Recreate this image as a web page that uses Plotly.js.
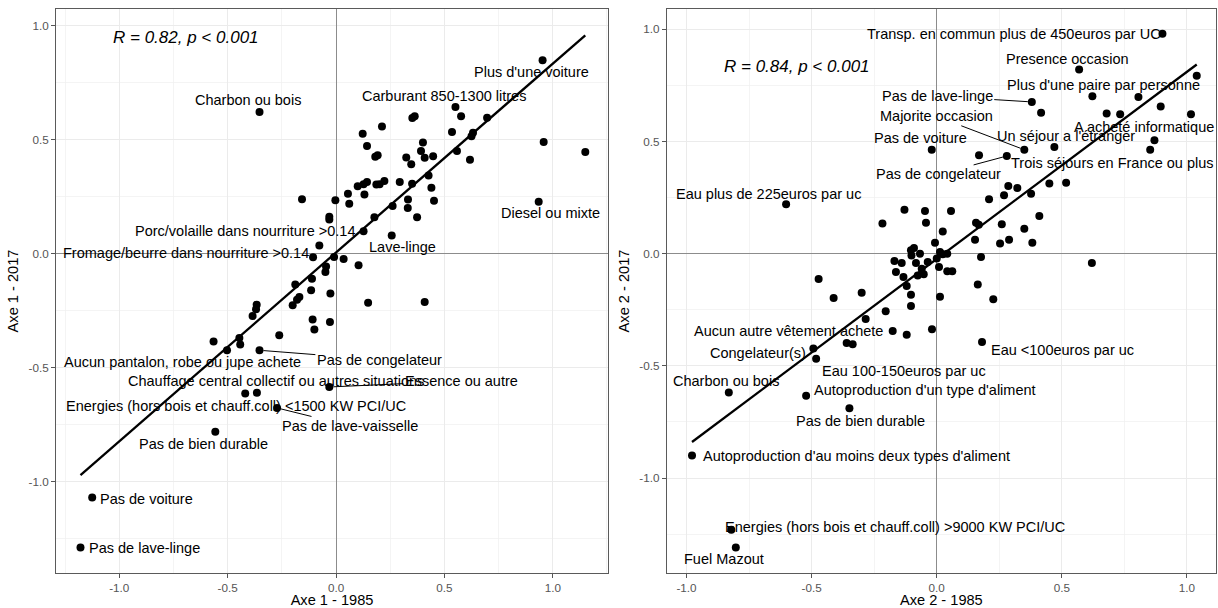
<!DOCTYPE html>
<html>
<head>
<meta charset="utf-8">
<script src="https://cdn.plot.ly/plotly-3.0.1.min.js"></script>
<style>html,body{margin:0;padding:0;background:#fff;}#chart{width:1218px;height:608px;}</style>
</head>
<body>
<div id="chart"></div>
<script>
// ---------- Data ----------
const leftX = [0.953,0.551,0.577,0.697,0.352,0.363,0.212,0.123,0.535,0.632,0.625,0.143,0.401,0.958,1.150,0.181,0.192,0.324,0.347,0.392,0.409,0.448,0.558,0.618,0.427,0.440,0.452,0.294,0.351,0.143,0.127,0.100,0.186,0.201,0.223,0.131,0.055,0.061,-0.003,-0.157,-0.031,-0.031,0.261,0.332,0.331,0.374,0.177,0.935,0.127,0.257,-0.077,-0.106,-0.009,0.035,0.104,-0.046,-0.049,-0.111,-0.188,-0.115,-0.026,-0.169,-0.180,-0.200,-0.366,-0.369,-0.385,-0.108,-0.100,-0.028,-0.262,-0.565,-0.446,-0.442,-0.503,-0.353,0.148,0.409,-0.031,-0.419,-0.365,-0.272,-0.557,-1.125,-1.179,-0.353];
const leftY = [0.848,0.643,0.602,0.596,0.595,0.603,0.558,0.526,0.533,0.530,0.515,0.472,0.487,0.490,0.446,0.425,0.432,0.422,0.392,0.450,0.421,0.427,0.450,0.412,0.343,0.289,0.232,0.314,0.307,0.314,0.304,0.295,0.303,0.304,0.318,0.259,0.263,0.219,0.234,0.238,0.162,0.150,0.209,0.237,0.200,0.159,0.159,0.228,0.098,0.079,0.036,-0.016,-0.015,-0.024,-0.051,-0.056,-0.081,-0.110,-0.135,-0.161,-0.175,-0.190,-0.202,-0.227,-0.224,-0.244,-0.274,-0.289,-0.333,-0.300,-0.358,-0.385,-0.370,-0.399,-0.424,-0.424,-0.215,-0.212,-0.585,-0.614,-0.610,-0.677,-0.781,-1.070,-1.289,0.621];

const rightX = [0.902,0.569,0.622,0.806,1.039,0.895,0.679,0.733,1.016,0.380,0.417,0.870,0.853,0.350,0.470,0.280,0.169,-0.020,0.450,0.517,0.286,0.322,0.269,0.377,0.209,-0.047,-0.043,0.057,0.157,0.168,0.260,0.410,0.350,0.024,0.153,0.253,0.289,0.382,-0.007,0.177,0.620,-0.103,-0.091,-0.067,0.013,0.024,0.042,-0.101,-0.169,-0.140,-0.163,-0.083,-0.036,0.000,-0.060,-0.076,-0.052,-0.133,0.009,0.042,0.062,-0.120,-0.103,-0.103,0.013,0.226,0.164,-0.129,-0.217,-0.472,-0.412,-0.300,-0.204,-0.284,-0.176,-0.120,-0.019,-0.360,-0.336,-0.493,-0.482,0.181,-0.831,-0.522,-0.349,-0.978,-0.821,-0.803,-0.602];
const rightY = [0.980,0.820,0.701,0.698,0.793,0.656,0.624,0.621,0.621,0.676,0.628,0.505,0.463,0.463,0.475,0.435,0.438,0.463,0.312,0.316,0.301,0.292,0.260,0.267,0.242,0.190,0.138,0.190,0.138,0.129,0.131,0.168,0.111,0.099,0.062,0.045,0.062,0.049,0.049,-0.015,-0.042,0.015,0.025,0.000,0.007,-0.003,0.000,-0.008,-0.033,-0.042,-0.082,-0.042,-0.037,-0.022,-0.067,-0.097,-0.092,-0.104,-0.060,-0.078,-0.078,-0.144,-0.183,-0.233,-0.192,-0.203,-0.137,0.196,0.134,-0.113,-0.198,-0.174,-0.257,-0.291,-0.345,-0.361,-0.337,-0.398,-0.404,-0.423,-0.468,-0.394,-0.619,-0.633,-0.689,-0.899,-1.230,-1.309,0.220];

// Labels: text, label position, and (optional) point the leader line goes to
const leftLabels = ["Charbon ou bois","Carburant 850-1300 litres","Plus d'une voiture","Diesel ou mixte","Porc/volaille dans nourriture >0.14","Fromage/beurre dans nourriture >0.14","Lave-linge","Aucun pantalon, robe ou jupe achete","Pas de congelateur","Chauffage central collectif ou autres situations","Essence ou autre","Energies (hors bois et chauff.coll) <1500 KW PCI/UC","Pas de lave-vaisselle","Pas de bien durable","Pas de voiture","Pas de lave-linge"];
const leftLabelX = [-0.407,0.500,0.901,0.989,-0.421,-0.693,0.306,-0.707,0.200,-0.275,0.578,-0.461,0.064,-0.612,-0.875,-0.883];
const leftLabelY = [0.672,0.690,0.795,0.177,0.098,0.001,0.028,-0.475,-0.465,-0.559,-0.559,-0.668,-0.756,-0.833,-1.075,-1.291];
const leftLeadX = [null,null,null,null,null,null,null,null,-0.353,null,-0.031,null,-0.272,null,null,null];
const leftLeadY = [null,null,null,null,null,null,null,null,-0.424,null,-0.585,null,-0.677,null,null,null];

const rightLabels = ["Transp. en commun plus de 450euros par UC","Presence occasion","Plus d'une paire par personne","Pas de lave-linge","Majorite occasion","Pas de voiture","Un séjour a l'étranger","A acheté informatique","Trois séjours en France ou plus","Pas de congelateur","Eau plus de 225euros par uc","Aucun autre vêtement achete","Congelateur(s)","Eau 100-150euros par uc","Eau <100euros par uc","Charbon ou bois","Autoproduction d'un type d'aliment","Pas de bien durable","Autoproduction d'au moins deux types d'aliment","Energies (hors bois et chauff.coll) >9000 KW PCI/UC","Fuel Mazout"];
const rightLabelX = [0.308,0.523,0.667,0.002,-0.002,-0.066,0.516,0.829,0.703,0.006,-0.673,-0.593,-0.715,-0.131,0.501,-0.841,-0.046,-0.303,-0.322,-0.167,-0.849];
const rightLabelY = [0.980,0.867,0.753,0.702,0.612,0.515,0.523,0.564,0.406,0.353,0.267,-0.345,-0.441,-0.525,-0.431,-0.568,-0.609,-0.746,-0.902,-1.218,-1.362];
const rightLeadX = [null,null,null,0.380,0.350,null,null,null,0.280,0.280,null,null,null,null,null,null,null,null,null,null,null];
const rightLeadY = [null,null,null,0.676,0.463,null,null,null,0.435,0.435,null,null,null,null,null,null,null,null,null,null,null];

const leftStat = "R = 0.82, p < 0.001";
const rightStat = "R = 0.84, p < 0.001";
const leftStatPos = [-0.691, 0.950];
const rightStatPos = [-0.558, 0.836];

const tickVals = [-1, -0.5, 0, 0.5, 1];
const tickText = ["-1.0", "-0.5", "0.0", "0.5", "1.0"];
const leftXTitle = "Axe 1 - 1985", leftYTitle = "Axe 1 - 2017";
const rightXTitle = "Axe 2 - 1985", rightYTitle = "Axe 2 - 2017";

// ---------- Linear fit (geom_smooth method = lm) ----------
function fit(xs, ys) {
  const n = xs.length;
  const mx = xs.reduce((a,b)=>a+b,0)/n, my = ys.reduce((a,b)=>a+b,0)/n;
  let sxy = 0, sxx = 0;
  for (let i=0;i<n;i++){ sxy += (xs[i]-mx)*(ys[i]-my); sxx += (xs[i]-mx)*(xs[i]-mx); }
  const b = sxy/sxx, a = my - b*mx;
  const x0 = Math.min(...xs), x1 = Math.max(...xs);
  return {x:[x0,x1], y:[a+b*x0, a+b*x1]};
}
const lf = fit(leftX, leftY), rf = fit(rightX, rightY);

const FONT = "Liberation Sans, Arial, Helvetica, sans-serif";
const traces = [
  {x: lf.x, y: lf.y, mode:'lines', line:{color:'#000', width:2.3}, xaxis:'x', yaxis:'y', hoverinfo:'skip'},
  {x: leftX, y: leftY, mode:'markers', marker:{color:'#000', size:8}, xaxis:'x', yaxis:'y'},
  {x: rf.x, y: rf.y, mode:'lines', line:{color:'#000', width:2.3}, xaxis:'x2', yaxis:'y2', hoverinfo:'skip'},
  {x: rightX, y: rightY, mode:'markers', marker:{color:'#000', size:8}, xaxis:'x2', yaxis:'y2'}
];

function labelAnns(texts, lx, ly, px, py, xr, yr) {
  return texts.map((t,i) => {
    const base = {text:t, xref:xr, yref:yr, font:{family:FONT, size:14.5, color:'#000'}, xanchor:'center', yanchor:'middle'};
    if (px[i] === null) {
      return Object.assign(base, {x:lx[i], y:ly[i], showarrow:false});
    }
    return Object.assign(base, {x:px[i], y:py[i], ax:lx[i], ay:ly[i], axref:xr, ayref:yr,
      showarrow:true, arrowhead:0, arrowwidth:1, arrowcolor:'#000', standoff:4});
  });
}

const annotations = []
  .concat(labelAnns(leftLabels, leftLabelX, leftLabelY, leftLeadX, leftLeadY, 'x', 'y'))
  .concat(labelAnns(rightLabels, rightLabelX, rightLabelY, rightLeadX, rightLeadY, 'x2', 'y2'))
  .concat([
    {text:leftStat, x:leftStatPos[0], y:leftStatPos[1], xref:'x', yref:'y', showarrow:false,
     font:{family:FONT, size:17, color:'#000', style:'italic'}},
    {text:rightStat, x:rightStatPos[0], y:rightStatPos[1], xref:'x2', yref:'y2', showarrow:false,
     font:{family:FONT, size:17, color:'#000', style:'italic'}}
  ]);

function axis(extra) {
  return Object.assign({
    tickmode:'array', tickvals:tickVals, ticktext:tickText,
    ticks:'outside', ticklen:4, tickwidth:1, tickcolor:'#555',
    tickfont:{family:FONT, size:11.7, color:'#555'},
    showgrid:true, gridcolor:'#ebebeb', gridwidth:1,
    minor:{tickmode:'linear', tick0:0.25, dtick:0.5, showgrid:true, gridcolor:'#f0f0f0', gridwidth:0.7, ticks:''},
    zeroline:true, zerolinecolor:'#8c8c8c', zerolinewidth:1,
    showline:true, mirror:true, linecolor:'#5a5a5a', linewidth:1,
    fixedrange:true
  }, extra);
}

const layout = {
  width:1218, height:608,
  margin:{l:56, r:2, t:9, b:35},
  paper_bgcolor:'#fff', plot_bgcolor:'#fff',
  showlegend:false,
  font:{family:FONT, color:'#000'},
  xaxis: axis({domain:[0,0.4759], range:[-1.292,1.255], anchor:'y',
    title:{text:leftXTitle, font:{family:FONT, size:14.6, color:'#000'}, standoff:4}}),
  yaxis: axis({domain:[0,1], range:[-1.401,1.073], anchor:'x',
    title:{text:leftYTitle, font:{family:FONT, size:14.6, color:'#000'}, standoff:6}}),
  xaxis2: axis({domain:[0.5265,1], range:[-1.079,1.116], anchor:'y2',
    title:{text:rightXTitle, font:{family:FONT, size:14.6, color:'#000'}, standoff:4}}),
  yaxis2: axis({domain:[0,1], range:[-1.423,1.090], anchor:'x2',
    title:{text:rightYTitle, font:{family:FONT, size:14.6, color:'#000'}, standoff:6}}),
  annotations: annotations
};

Plotly.newPlot('chart', traces, layout, {staticPlot:true, displayModeBar:false});
</script>
</body>
</html>
